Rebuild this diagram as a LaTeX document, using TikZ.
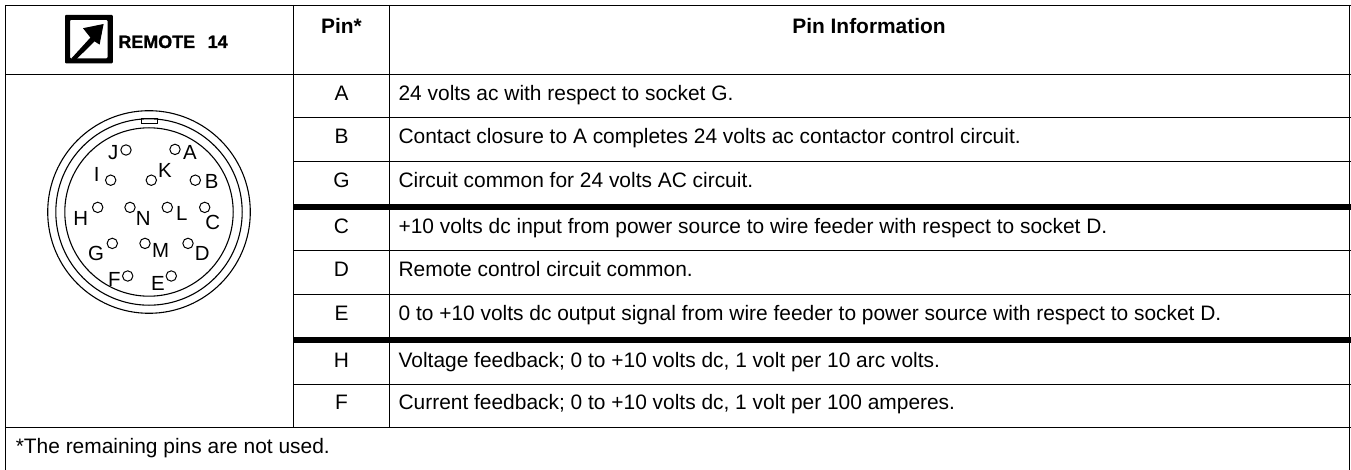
\documentclass[tikz,border=0pt]{standalone}
\usepackage{fontspec}
\setmainfont{Liberation Sans}
\newfontface\heavyfont{Liberation Sans Bold}[FakeBold=1.2]
\begin{document}
\begin{tikzpicture}[x=1bp,y=-1bp,
  rule/.style={line width=1bp,black},
  thickrule/.style={line width=5.6bp,black},
  body/.style={inner sep=0pt,anchor=base west,font=\fontsize{21}{24}\selectfont},
  pinname/.style={inner sep=0pt,anchor=base,font=\fontsize{21}{24}\selectfont},
  head/.style={inner sep=0pt,anchor=base,font=\fontsize{21}{24}\selectfont\bfseries},
  mark label/.style={inner sep=0pt,anchor=base west,font=\fontsize{18}{20}\heavyfont},
  ring/.style={line width=1.1bp,black},
  socket/.style={draw,black,circle,line width=1bp,minimum size=10.4bp,inner sep=0pt},
  letter/.style={inner sep=0pt,anchor=center,text=black,font=\fontsize{20.5}{24}\selectfont}]
\useasboundingbox (0,0) rectangle (1351,470);
% table rules
\draw[rule] (5.7,5.4) -- (1351,5.4);
\draw[rule] (5.7,74.4) -- (1351,74.4);
\draw[rule] (293.4,117.4) -- (1351,117.4);
\draw[rule] (293.4,161.2) -- (1351,161.2);
\draw[thickrule] (293,207) -- (1351,207);
\draw[rule] (293.4,250.2) -- (1351,250.2);
\draw[rule] (293.4,294.4) -- (1351,294.4);
\draw[thickrule] (293,340) -- (1351,340);
\draw[rule] (293.4,384.2) -- (1351,384.2);
\draw[rule] (5.7,427.4) -- (1351,427.4);
\draw[rule] (5.7,5) -- (5.7,470);
\draw[rule] (1349.7,5) -- (1349.7,470);
\draw[rule] (293.4,5) -- (293.4,427.4);
\draw[rule] (389.4,5) -- (389.4,427.4);
% header
\fill[black,rounded corners=1bp,even odd rule] (65,15) rectangle (112.8,63.4) (70,20) rectangle (107.6,58.4);
\fill[black] (71.4,58.4) -- (90.4,37.6) -- (83,28.2) -- (103.6,24) -- (99.6,44.6) -- (94.6,41.4) -- (75.6,60) -- cycle;
\node[mark label] (remote) at (118.2,48) {REMOTE};
\node[mark label] (fourteen) at (207.5,48) {14};
\node[head] (hpin) at (341.5,34) {Pin*};
\node[head] (hinfo) at (869,34) {Pin Information};
% rows
\node[pinname] (pa) at (341.5,100.4) {A};
\node[pinname] (pb) at (341.5,143.6) {B};
\node[pinname] (pg) at (341.5,187.4) {G};
\node[pinname] (pc) at (341.5,233.2) {C};
\node[pinname] (pd) at (341.5,276.8) {D};
\node[pinname] (pe) at (341.5,320.2) {E};
\node[pinname] (ph) at (341.5,367.2) {H};
\node[pinname] (pf) at (341.5,409.4) {F};
\node[body] (ta) at (398.4,100.4) {24 volts ac with respect to socket G.};
\node[body] (tb) at (398.4,143.6) {Contact closure to A completes 24 volts ac contactor control circuit.};
\node[body] (tg) at (398.4,187.4) {Circuit common for 24 volts AC circuit.};
\node[body] (tc) at (398.4,233.2) {+10 volts dc input from power source to wire feeder with respect to socket D.};
\node[body] (td) at (398.4,276.8) {Remote control circuit common.};
\node[body] (te) at (398.4,320.2) {0 to +10 volts dc output signal from wire feeder to power source with respect to socket D.};
\node[body] (th) at (398.4,367.2) {Voltage feedback; 0 to +10 volts dc, 1 volt per 10 arc volts.};
\node[body] (tf) at (398.4,409.4) {Current feedback; 0 to +10 volts dc, 1 volt per 100 amperes.};
\node[body] (foot) at (15.6,453.4) {*The remaining pins are not used.};
% connector
\draw[ring] (149,212) circle[radius=101.3];
\draw[ring] (149,212) circle[radius=93.2];
\draw[ring] (149,212) circle[radius=84.2];
\draw[line width=1bp,black] (141.8,118.6) rectangle (157.2,123.2);
\node[socket] (sj) at (126,150) {};
\node[socket] (sa) at (175,149.4) {};
\node[socket] (si) at (110.7,180.2) {};
\node[socket] (sk) at (151.3,180.2) {};
\node[socket] (sb) at (195.3,180.2) {};
\node[socket] (sh) at (97.7,207.4) {};
\node[socket] (sn) at (130,207.4) {};
\node[socket] (sl) at (167.3,207.4) {};
\node[socket] (sc) at (204.7,207.4) {};
\node[socket] (sg) at (112.3,243.4) {};
\node[socket] (sm) at (145,243.4) {};
\node[socket] (sd) at (188,243.4) {};
\node[socket] (sf) at (127.7,276) {};
\node[socket] (se) at (171.3,276) {};
\node[letter] (lj) at (113.3,152.7) {J};
\node[letter] (la) at (190,152.7) {A};
\node[letter] (li) at (96.7,174) {I};
\node[letter] (lk) at (165,170) {K};
\node[letter] (lb) at (211.7,181.7) {B};
\node[letter] (lh) at (80.7,218.3) {H};
\node[letter] (ln) at (143.3,218.3) {N};
\node[letter] (ll) at (181.7,213.3) {L};
\node[letter] (lc) at (212.7,222.7) {C};
\node[letter] (lg) at (96,253.3) {G};
\node[letter] (lm) at (160.7,250.7) {M};
\node[letter] (ld) at (202.3,253.3) {D};
\node[letter] (lf) at (114.3,279.3) {F};
\node[letter] (le) at (158,283.3) {E};
\end{tikzpicture}
\end{document}
